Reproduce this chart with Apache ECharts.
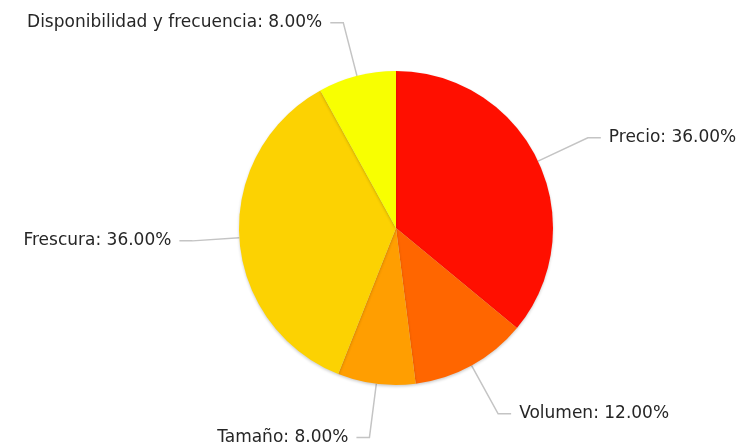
<!DOCTYPE html>
<html>
<head>
<meta charset="utf-8">
<script src="https://cdn.jsdelivr.net/npm/echarts@6/dist/echarts.min.js"></script>
<style>
html,body{margin:0;padding:0;background:#fff;}
#chart{width:740px;height:447px;}
</style>
</head>
<body>
<div id="chart"></div>
<script>
var categories = ['Precio', 'Volumen', 'Tamaño', 'Frescura', 'Disponibilidad y frecuencia'];
var values = [36, 12, 8, 36, 8];
var colors = ['#FF0F00', '#FF6600', '#FF9E01', '#FCD202', '#F8FF01'];

var chart = echarts.init(document.getElementById('chart'), null, {renderer: 'canvas'});
chart.setOption({
  animation: false,
  backgroundColor: '#ffffff',
  series: [{
    type: 'pie',
    center: [396, 228],
    radius: 157,
    startAngle: 90,
    clockwise: true,
    avoidLabelOverlap: true,
    data: categories.map(function (c, i) {
      return {name: c, value: values[i], itemStyle: {color: colors[i]}};
    }),
    itemStyle: {
      borderWidth: 0,
      shadowBlur: 3,
      shadowOffsetY: 1.5,
      shadowColor: 'rgba(0,0,0,0.2)'
    },
    label: {
      show: true,
      position: 'outside',
      fontFamily: 'DejaVu Sans',
      fontSize: 17,
      color: '#262626',
      overflow: 'none',
      edgeDistance: 0,
      bleedMargin: 0,
      distanceToLabelLine: 8,
      formatter: function (p) { return p.name + ': ' + p.percent.toFixed(2) + '%'; }
    },
    labelLine: {
      show: true,
      length: 55,
      length2: 13,
      smooth: false,
      lineStyle: {color: '#c4c4c4', width: 1.5}
    },
    emphasis: {disabled: true}
  }]
});
</script>
</body>
</html>
